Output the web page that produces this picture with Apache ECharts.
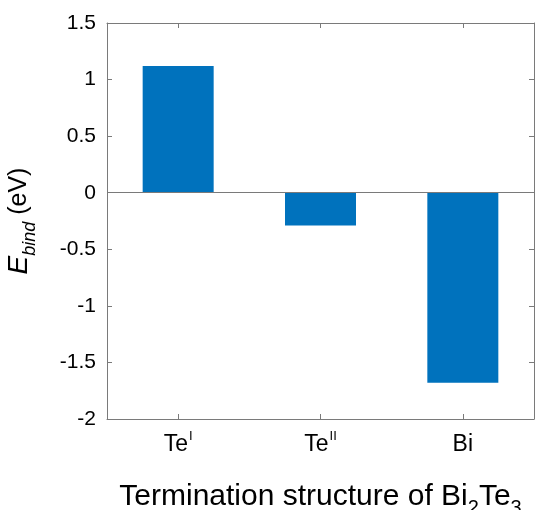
<!DOCTYPE html>
<html><head><meta charset="utf-8">
<script src="https://cdn.jsdelivr.net/npm/echarts@6/dist/echarts.min.js"></script>
<style>html,body{margin:0;padding:0;background:#fff}#c{width:535px;height:510px}</style>
</head><body><div id="c"></div>
<script>
const categories = ['TeI', 'TeII', 'Bi'];
const categoryLabels = ['{a|Te}{s|I}', '{a|Te}{s|II}', '{a|Bi}'];
const values = [1.12, -0.29, -1.68];
const yTicks = [-2, -1.5, -1, -0.5, 0, 0.5, 1, 1.5];

const axisColor = '#7a7a7a';
const font = 'Liberation Sans, Arial, Helvetica, sans-serif';
const chart = echarts.init(document.getElementById('c'), null, {renderer: 'canvas'});
chart.setOption({
  animation: false,
  backgroundColor: '#fff',
  grid: {left: 107, right: 1, top: 23, bottom: 91, containLabel: false, outerBoundsMode: 'none'},
  xAxis: [{
    type: 'category', data: categories, position: 'bottom',
    axisLine: {show: true, onZero: false, lineStyle: {color: axisColor, width: 1}},
    axisTick: {show: true, inside: true, length: 5, alignWithLabel: true, lineStyle: {color: axisColor}},
    axisLabel: {
      margin: 11,
      formatter: (v, i) => categoryLabels[i],
      rich: {
        a: {fontSize: 23, fontFamily: font, color: '#000', verticalAlign: 'bottom', lineHeight: 26},
        s: {fontSize: 13, fontFamily: font, color: '#000', verticalAlign: 'top', lineHeight: 26, padding: [0,0,10,1]}
      }
    },
    name: '{t|Termination structure of Bi}{b|2}{t|Te}{b|3}',
    nameLocation: 'middle', nameGap: 63,
    nameTextStyle: {
      rich: {
        t: {fontSize: 30, fontFamily: font, color: '#000', lineHeight: 36, verticalAlign: 'top'},
        b: {fontSize: 20, fontFamily: font, color: '#000', lineHeight: 36, verticalAlign: 'bottom', padding: [12,0,0,0]}
      }
    },
    splitLine: {show: false}
  }, {
    type: 'category', data: categories, position: 'top',
    axisLine: {show: true, onZero: false, lineStyle: {color: axisColor, width: 1}},
    axisTick: {show: true, inside: true, length: 5, alignWithLabel: true, lineStyle: {color: axisColor}},
    axisLabel: {show: false}, splitLine: {show: false}
  }],
  yAxis: [{
    type: 'value', min: -2, max: 1.5, interval: 0.5, position: 'left',
    axisLine: {show: true, onZero: false, lineStyle: {color: axisColor, width: 1}},
    axisTick: {show: true, inside: true, length: 5, lineStyle: {color: axisColor}},
    axisLabel: {fontSize: 21, fontFamily: font, color: '#000', margin: 11,
      formatter: v => String(v)},
    splitLine: {show: false},
    name: '{e|E}{sub|bind}{t| (eV)}',
    nameLocation: 'middle', nameRotate: 90, nameGap: 68,
    nameTextStyle: {
      rich: {
        e: {fontSize: 28, fontFamily: font, fontStyle: 'italic', color: '#000', lineHeight: 34, verticalAlign: 'top'},
        sub: {fontSize: 18, fontFamily: font, fontStyle: 'italic', color: '#000', lineHeight: 34, verticalAlign: 'bottom', padding: [10,0,0,0]},
        t: {fontSize: 25, fontFamily: font, color: '#000', lineHeight: 34, verticalAlign: 'top', padding: [2,0,0,0]}
      }
    }
  }, {
    type: 'value', min: -2, max: 1.5, interval: 0.5, position: 'right',
    axisLine: {show: true, onZero: false, lineStyle: {color: axisColor, width: 1}},
    axisTick: {show: true, inside: true, length: 5, lineStyle: {color: axisColor}},
    axisLabel: {show: false}, splitLine: {show: false}
  }],
  series: [{
    type: 'bar', data: values, xAxisIndex: 0, yAxisIndex: 0,
    barWidth: 71,
    itemStyle: {color: '#0072BD'},
    markLine: {
      silent: true, symbol: 'none', label: {show: false},
      lineStyle: {color: axisColor, type: 'solid', width: 1},
      data: [{yAxis: 0}]
    }
  }]
});
</script></body></html>
